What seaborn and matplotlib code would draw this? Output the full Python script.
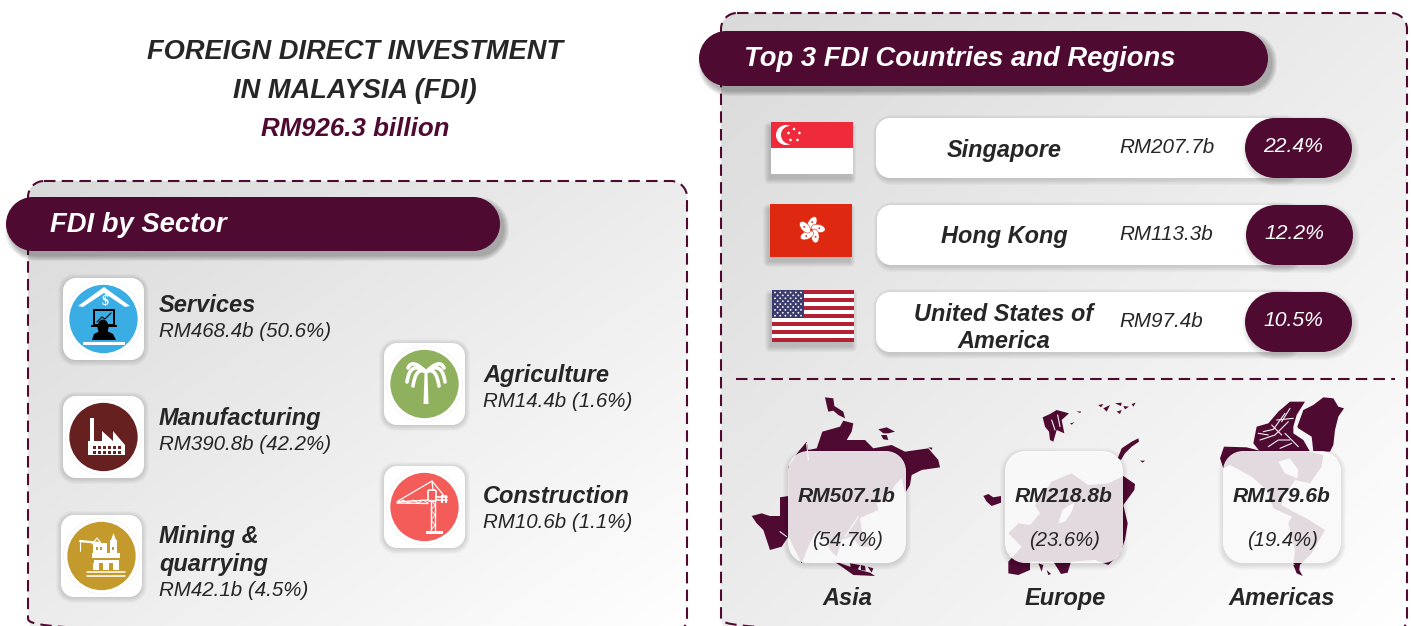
#!/usr/bin/env python3
"""FDI in Malaysia infographic"""

import numpy as np
import pandas as pd
import matplotlib
matplotlib.use('Agg')
import matplotlib.pyplot as plt
import seaborn as sns
from matplotlib.colors import LinearSegmentedColormap
from matplotlib.patches import Polygon, Rectangle, Circle, Ellipse, PathPatch
from matplotlib.path import Path

# data
sectors = ['Services', 'Manufacturing', 'Mining &\nquarrying', 'Agriculture', 'Construction']
sector_values = [468.4, 390.8, 42.1, 14.4, 10.6]
sector_shares = [50.6, 42.2, 4.5, 1.6, 1.1]
sector_colors = ['#3AADE4', '#66201F', '#C49A2D', '#8FB15E', '#F45C5A']

countries = ['Singapore', 'Hong Kong', 'United States of\nAmerica']
country_values = [207.7, 113.3, 97.4]
country_shares = [22.4, 12.2, 10.5]

regions = ['Asia', 'Europe', 'Americas']
region_values = [507.1, 218.8, 179.6]
region_shares = [54.7, 23.6, 19.4]

total_fdi = 926.3

PLUM = '#4F0A32'
INK = '#262626'

sns.set_theme(style='white')
plt.rcParams['font.family'] = ['Liberation Sans', 'DejaVu Sans']

fig = plt.figure(figsize=(14.11, 6.26), dpi=100)
ax = fig.add_axes([0, 0, 1, 1])
ax.axis('off')


def rbox(x0, y0, x1, y1, r, **kw):
    # rounded box with real circular corners
    k = r * (1 - 0.5523)
    verts = [(x0 + r, y0), (x1 - r, y0), (x1 - k, y0), (x1, y0 + k), (x1, y0 + r),
             (x1, y1 - r), (x1, y1 - k), (x1 - k, y1), (x1 - r, y1),
             (x0 + r, y1), (x0 + k, y1), (x0, y1 - k), (x0, y1 - r),
             (x0, y0 + r), (x0, y0 + k), (x0 + k, y0), (x0 + r, y0), (x0 + r, y0)]
    C4, L = Path.CURVE4, Path.LINETO
    codes = [Path.MOVETO, L, C4, C4, C4, L, C4, C4, C4, L, C4, C4, C4, L, C4, C4, C4, Path.CLOSEPOLY]
    return PathPatch(Path(verts, codes), **kw)


def shadow(x0, y0, x1, y1, r, dx=3, dy=3, z=2, strength=0.05):
    for g in range(5, -1, -1):
        ax.add_patch(rbox(x0 + dx - g, y0 + dy - g, x1 + dx + g, y1 + dy + g, r + g,
                          fc='black', ec='none', alpha=strength, zorder=z))


def panel(x0, y0, x1, y1, c0, c1):
    xx, yy = np.meshgrid(np.linspace(0, 1, 200), np.linspace(0, 1, 200))
    grad = (xx + yy) / 2
    im = ax.imshow(grad, extent=(x0, x1, y1, y0), cmap=LinearSegmentedColormap.from_list('p', [c0, c1]),
                   aspect='auto', zorder=0.5, vmin=0, vmax=1)
    edge = rbox(x0, y0, x1, y1, 16, fc='none', ec=PLUM, lw=1.5, ls=(0, (5.5, 3)), zorder=1)
    ax.add_patch(edge)
    im.set_clip_path(edge)


def header(x0, y0, x1, y1, label, tx):
    shadow(x0, y0, x1, y1, 26, dx=4, dy=5, z=2)
    ax.add_patch(rbox(x0, y0, x1, y1, (y1 - y0) / 2, fc=PLUM, ec='none', zorder=3))
    ax.text(tx, (y0 + y1) / 2 + 8, label, color='white', fontsize=19.7, weight='bold', style='italic',
            va='baseline', zorder=6)


def poly(pts, c='white', z=5, **kw):
    ax.add_patch(Polygon(pts, closed=True, fc=c, ec='none', zorder=z, **kw))


def rect(x0, y0, x1, y1, c='white', z=5):
    ax.add_patch(Rectangle((x0, y0), x1 - x0, y1 - y0, fc=c, ec='none', zorder=z))


def stroke(pts, lw=1.0, c='white', z=5):
    xs, ys = zip(*pts)
    ax.plot(xs, ys, color=c, lw=lw, zorder=z, solid_capstyle='round')


def frond(a, b, c, lw=2.6):
    ax.add_patch(PathPatch(Path([a, b, c], [Path.MOVETO, Path.CURVE3, Path.CURVE3]), fc='none', ec='white',
                           lw=lw, capstyle='round', zorder=5))


# background panels
panel(28, 181, 687, 634, '#dadada', '#ffffff')
panel(721, 13, 1407, 634, '#dadada', '#ffffff')

# title
ax.text(355, 59, 'FOREIGN DIRECT INVESTMENT', ha='center', va='baseline', fontsize=19.6, weight='bold',
        style='italic', color=INK)
ax.text(355, 98, 'IN MALAYSIA (FDI)', ha='center', va='baseline', fontsize=19.6, weight='bold',
        style='italic', color=INK)
ax.text(355, 136, f'RM{total_fdi} billion', ha='center', va='baseline', fontsize=18.6, weight='bold',
        style='italic', color=PLUM)

header(6, 197, 500, 251, 'FDI by Sector', 50)
header(699, 31, 1268, 86, 'Top 3 FDI Countries and Regions', 744)

# sector icons
icon_boxes = [(63, 278), (63, 396), (61, 515), (384, 343), (384, 466)]
icon_df = pd.DataFrame({'sector': sectors,
                        'x': [b[0] + 40.5 for b in icon_boxes],
                        'y': [b[1] + 41 for b in icon_boxes]})
for bx, by in icon_boxes:
    shadow(bx, by, bx + 81, by + 82, 12, dx=0, dy=1, z=2, strength=0.025)
    ax.add_patch(rbox(bx, by, bx + 81, by + 82, 13, fc='white', ec='none', zorder=3))
    ax.add_patch(Circle((bx + 40.5, by + 41), 38, fc='none', ec='#dddddd', lw=0.5, ls=':', zorder=3.5))

sns.scatterplot(data=icon_df, x='x', y='y', hue='sector', palette=dict(zip(sectors, sector_colors)),
                s=2420, linewidth=0, legend=False, ax=ax, zorder=4)

# services glyph
poly([(78, 306), (104, 287), (130, 306), (125, 307), (104, 293), (83, 307)])
ax.text(105, 301, '$', color='white', fontsize=10, weight='bold', ha='center', va='center', zorder=5,
        family='Liberation Serif')
rect(93, 309, 115, 327, 'black')
rect(95, 311, 113, 324, '#3AADE4')
stroke([(97, 322), (102, 317), (105, 319), (111, 313)], 0.8, 'black')
rect(91, 325, 117, 327, 'black')
ax.add_patch(Ellipse((103, 327), 11, 15, fc='black', ec='none', zorder=5.1))
poly([(92, 340), (94, 334), (100, 331), (107, 331), (113, 334), (116, 340)], 'black', z=5.1)
rect(83, 342, 125, 345)

# factory glyph
rect(90, 418, 94, 445)
poly([(88, 455), (88, 441), (102, 441), (102, 431), (113, 441), (113, 431), (125, 445), (125, 455)])
for wy in (446, 451):
    for wx in np.arange(93, 122, 5):
        rect(wx, wy, wx + 3, wy + 2.5, '#66201F')

# mining glyph
stroke([(80, 541), (100, 543)], 1.6)
stroke([(80, 541), (80, 551)], 0.8)
stroke([(92, 544), (97, 538), (101, 543)], 0.8)
rect(93, 543, 107, 553)
rect(110, 540, 117, 553)
poly([(111, 540), (113.5, 533), (116, 540)])
rect(92, 553, 120, 558)
rect(94, 560, 119, 563)
for lx in (93, 103, 113):
    rect(lx, 563, lx + 6, 570)
for ly in (572, 576):
    stroke([(87, ly), (125, ly)], 1.1)
for wx in (96, 100, 112):
    rect(wx, 547, wx + 2, 550, '#C49A2D')

# palm glyph
poly([(424.5, 374), (427.5, 374), (428.5, 404), (423.5, 404)])
c = (426, 372)
frond(c, (410, 360), (407, 382))
frond(c, (416, 366), (413, 386))
frond(c, (442, 360), (445, 382))
frond(c, (436, 366), (439, 386))
frond(c, (412, 358), (408, 368))
frond(c, (440, 358), (444, 368))

# crane glyph
stroke([(431, 500), (431, 530)], 1.0)
stroke([(435, 500), (435, 530)], 1.0)
zz = [(431, 500), (435, 505), (431, 510), (435, 515), (431, 520), (435, 525), (431, 530)]
stroke(zz, 0.7)
rect(426, 531, 443, 534)
stroke([(397, 502), (428, 500)], 1.0)
stroke([(397, 503), (428, 503.5)], 1.0)
stroke([(398, 503), (403, 500), (408, 503), (413, 500), (418, 503), (423, 500), (428, 503)], 0.7)
stroke([(398, 501), (432, 481), (445, 497)], 0.9)
stroke([(432, 481), (433, 490)], 0.9)
ax.add_patch(rbox(428, 490, 436, 501, 1.5, fc='none', ec='white', lw=1.2, zorder=5))
stroke([(436, 497), (447, 497)], 1.2)
stroke([(436, 500), (447, 500)], 1.2)
rect(441, 495, 443, 503)
rect(445, 495, 447, 503)

# sector text
name_x = [159, 159, 159, 483, 483]
name_y = [312, 425, 543, 382, 503]
line_y = [337, 450, 596, 407, 528]
for i, s in enumerate(sectors):
    ax.text(name_x[i], name_y[i], s.split('\n')[0], fontsize=17, weight='bold', style='italic', color=INK, va='baseline', zorder=6)
    if '\n' in s:
        ax.text(name_x[i], name_y[i] + 28, s.split('\n')[1], fontsize=17, weight='bold', style='italic', color=INK, va='baseline', zorder=6)
    ax.text(name_x[i], line_y[i], f'RM{sector_values[i]}b ({sector_shares[i]}%)', fontsize=14.8, style='italic',
            color=INK, va='baseline', zorder=6)

# country cards
card_x = [876, 877, 876]
card_y = [118, 205, 292]
for i, name in enumerate(countries):
    x0, y0 = card_x[i], card_y[i]
    shadow(x0, y0, x0 + 420, y0 + 60, 13, dx=2, dy=2, z=2, strength=0.025)
    ax.add_patch(rbox(x0, y0, x0 + 420, y0 + 60, 14, fc='white', ec='none', zorder=3))
    shadow(x0 + 369, y0, x0 + 476, y0 + 60, 29, dx=2, dy=3, z=3.2, strength=0.025)
    ax.add_patch(rbox(x0 + 369, y0, x0 + 476, y0 + 60, 30, fc=PLUM, ec='none', zorder=4))
    parts = name.split('\n')
    if len(parts) == 1:
        ax.text(1004, y0 + 38.5, name, fontsize=16.9, weight='bold', style='italic', color=INK,
                ha='center', va='baseline', zorder=6)
    else:
        ax.text(1004, y0 + 29, parts[0], fontsize=16.9, weight='bold', style='italic', color=INK,
                ha='center', va='baseline', zorder=6)
        ax.text(1004, y0 + 56, parts[1], fontsize=16.9, weight='bold', style='italic', color=INK,
                ha='center', va='baseline', zorder=6)
    ax.text(1119, y0 + 35, f'RM{country_values[i]}b', fontsize=14.9, style='italic', color=INK, va='baseline', zorder=6)
    ax.text(x0 + 417, y0 + 34, f'{country_shares[i]}%', fontsize=15.2, style='italic', color='white', ha='center',
            va='baseline', zorder=6)

# flags
shadow(771, 122, 853, 174, 0.5, dx=-2, dy=5, z=2, strength=0.03)
rect(771, 122, 853, 148, '#EF2B3B', 3)
rect(771, 148, 853, 174, 'white', 3)
ax.add_patch(Circle((786, 135), 10, fc='white', ec='none', zorder=4))
ax.add_patch(Circle((790, 135), 9, fc='#EF2B3B', ec='none', zorder=4.1))
for sx, sy in [(794, 129), (799.5, 133), (797.5, 140), (790.5, 140), (788.5, 133)]:
    ax.add_patch(Circle((sx, sy), 1.3, fc='white', ec='none', zorder=4.2))

shadow(770, 204, 852, 257, 0.5, dx=-2, dy=5, z=2, strength=0.03)
rect(770, 204, 852, 257, '#DE2910', 3)
for a in range(5):
    th = np.deg2rad(a * 72 - 90 + 5)
    ax.add_patch(Ellipse((811.5 + 7 * np.cos(th), 230 + 7 * np.sin(th)), 14, 8, angle=np.rad2deg(th) + 25,
                         fc='white', ec='#DE2910', lw=0.4, zorder=4))
    ax.add_patch(Circle((811.5 + 8 * np.cos(th), 230 + 8 * np.sin(th)), 0.9, fc='#DE2910', ec='none', zorder=4.1))

shadow(772, 290, 854, 342, 0.5, dx=-2, dy=5, z=2, strength=0.03)
stripe_h = 52 / 13
for k in range(13):
    rect(772, 290 + k * stripe_h, 854, 290 + (k + 1) * stripe_h, '#B22234' if k % 2 == 0 else 'white', 3)
rect(772, 290, 804, 318, '#3C3B6E', 4)
for row in range(9):
    for col in range(6 if row % 2 == 0 else 5):
        ax.add_patch(Circle((775 + col * 5.2 + (0 if row % 2 == 0 else 2.6), 292.5 + row * 2.9), 0.9,
                            fc='white', ec='none', zorder=4.5))

# divider
ax.plot([736, 1395], [379, 379], color=PLUM, lw=1.5, ls=(0, (5.5, 3)), zorder=2)


def zm(pts, ox):
    # outlines were traced on 3x crops of the map areas
    return [(ox + x / 3, 390 + y / 3) for x, y in pts]


# rough continent shapes
asia_shapes = [
    [(20, 378), (50, 370), (75, 378), (105, 378), (105, 322), (130, 318), (130, 230), (160, 185), (185, 155),
     (190, 180), (215, 175), (232, 125), (285, 110), (295, 92), (325, 100), (320, 125), (305, 150), (360, 150),
     (385, 175), (440, 165), (480, 185), (550, 175), (580, 210), (585, 232), (530, 240), (500, 255), (495, 285),
     (480, 310), (470, 265), (450, 285), (425, 330), (395, 340), (400, 360), (365, 375), (345, 385), (350, 420),
     (380, 470), (345, 470), (320, 440), (290, 450), (275, 500), (255, 480), (240, 440), (210, 430), (190, 470),
     (170, 520), (150, 480), (130, 440), (110, 470), (75, 480), (55, 420), (35, 400)],
    [(260, 510), (290, 530), (325, 555), (390, 558), (375, 548), (345, 540), (300, 525)],
    [(315, 520), (345, 525), (335, 545), (318, 538)],
    [(347, 525), (360, 528), (362, 542), (348, 540)],
    [(368, 530), (385, 535), (380, 548)],
    [(240, 22), (265, 25), (268, 48), (295, 65), (300, 85), (280, 75), (265, 62), (250, 65), (245, 45)],
    [(400, 118), (425, 112), (450, 125), (430, 130), (415, 130)],
    [(408, 135), (425, 135), (430, 150), (415, 148)],
    [(550, 172), (562, 173), (560, 180)],
]
europe_shapes = [
    [(445, 258), (480, 282), (478, 300), (445, 345), (458, 400), (450, 450), (435, 490), (400, 525), (360, 510),
     (288, 515), (278, 548), (258, 552), (235, 515), (165, 515), (165, 540), (130, 555), (100, 550), (100, 515),
     (140, 470), (100, 430), (130, 400), (165, 405), (195, 370), (180, 345), (230, 275), (290, 250), (340, 285),
     (400, 280)],
    [(428, 205), (440, 175), (470, 155), (490, 145), (492, 155), (470, 170), (450, 190), (438, 210)],
    [(190, 520), (205, 525), (200, 545)],
    [(215, 540), (228, 552), (220, 555)],
    [(25, 318), (40, 312), (55, 322), (78, 318), (78, 338), (50, 348), (35, 335)],
    [(203, 82), (225, 72), (245, 60), (282, 70), (260, 90), (268, 130), (245, 120), (235, 155), (225, 150),
     (222, 125), (210, 110)],
    [(305, 65), (318, 64), (316, 69)],
    [(285, 100), (298, 97), (290, 104)],
    [(370, 45), (385, 42), (378, 52)],
    [(385, 55), (405, 45), (395, 65)],
    [(420, 40), (440, 38), (438, 48)],
    [(445, 48), (462, 50), (450, 58)],
    [(470, 42), (482, 38), (475, 50)],
    [(425, 65), (440, 60), (435, 72)],
    [(495, 212), (510, 212), (503, 218)],
]
americas_shapes = [
    [(262, 110), (280, 60), (310, 45), (340, 22), (370, 25), (385, 50), (402, 55), (385, 80), (375, 120), (370, 165),
     (360, 185), (310, 185), (305, 140), (265, 115)],
    [(130, 160), (140, 110), (175, 100), (205, 65), (240, 35), (285, 35), (260, 75), (250, 110), (250, 130),
     (280, 150), (300, 185), (150, 185)],
    [(30, 205), (42, 170), (110, 172), (160, 185), (300, 185), (340, 195), (335, 230), (300, 280), (255, 270),
     (235, 300), (220, 315), (215, 345), (250, 365), (290, 385), (345, 420), (305, 490), (275, 520), (262, 530),
     (250, 520), (255, 480), (235, 400), (245, 380), (190, 355), (170, 300), (125, 260), (60, 225), (40, 235)],
    [(250, 525), (270, 520), (268, 540), (278, 558), (260, 550)],
]
map_origin = [745, 975, 1210]
for shapes, ox in zip((asia_shapes, europe_shapes, americas_shapes), map_origin):
    for sh in shapes:
        poly(zm(sh, ox), PLUM, z=2.5)

# seas and channels cut back out of the land
poly(zm([(205, 215), (240, 205), (265, 240), (262, 265), (225, 250)], 1210), '#f4f4f4', z=2.55)
poly(zm([(250, 400), (262, 360), (300, 335), (290, 365), (270, 395)], 975), '#f4f4f4', z=2.55)
for seg in [[(160, 125), (190, 118), (225, 70)], [(150, 150), (195, 135), (235, 95)], [(175, 170), (205, 150), (240, 150)],
            [(200, 90), (250, 85)], [(225, 130), (265, 170)], [(145, 130), (175, 135)], [(210, 175), (245, 160)],
            [(185, 105), (215, 135)], [(240, 55), (215, 95)]]:
    stroke(zm(seg, 1210), 0.8, '#f2f2f2', z=2.55)
for seg in [[(230, 90), (240, 120)], [(248, 75), (255, 110)]]:
    stroke(zm(seg, 975), 0.8, '#f2f2f2', z=2.55)
for seg in [[(185, 160), (190, 210)], [(105, 425), (125, 440)], [(340, 380), (300, 440)]]:
    stroke(zm(seg, 745), 0.8, '#f2f2f2', z=2.55)

# region cards
region_x = [788, 1005, 1223]
region_label_x = [847, 1065, 1282]
for i, reg in enumerate(regions):
    x0 = region_x[i]
    shadow(x0, 451, x0 + 118, 563, 19, dx=0, dy=2, z=2.6, strength=0.02)
    ax.add_patch(rbox(x0, 451, x0 + 118, 563, 20, fc='white', ec='none', alpha=0.86, zorder=3))
    ax.text(x0 + 59, 502, f'RM{region_values[i]}b', fontsize=15.1, weight='bold', style='italic', color=INK,
            ha='center', va='baseline', zorder=6)
    ax.text(x0 + 59, 546, f'({region_shares[i]}%)', fontsize=14.6, style='italic', color=INK,
            ha='center', va='baseline', zorder=6)
    ax.text(region_label_x[i], 605, reg, fontsize=17, weight='bold', style='italic', color=INK,
            ha='center', va='baseline', zorder=6)

ax.set_xlim(0, 1411)
ax.set_ylim(626, 0)
ax.set_aspect('auto')
fig.savefig('out.png', dpi=100, facecolor='white')
